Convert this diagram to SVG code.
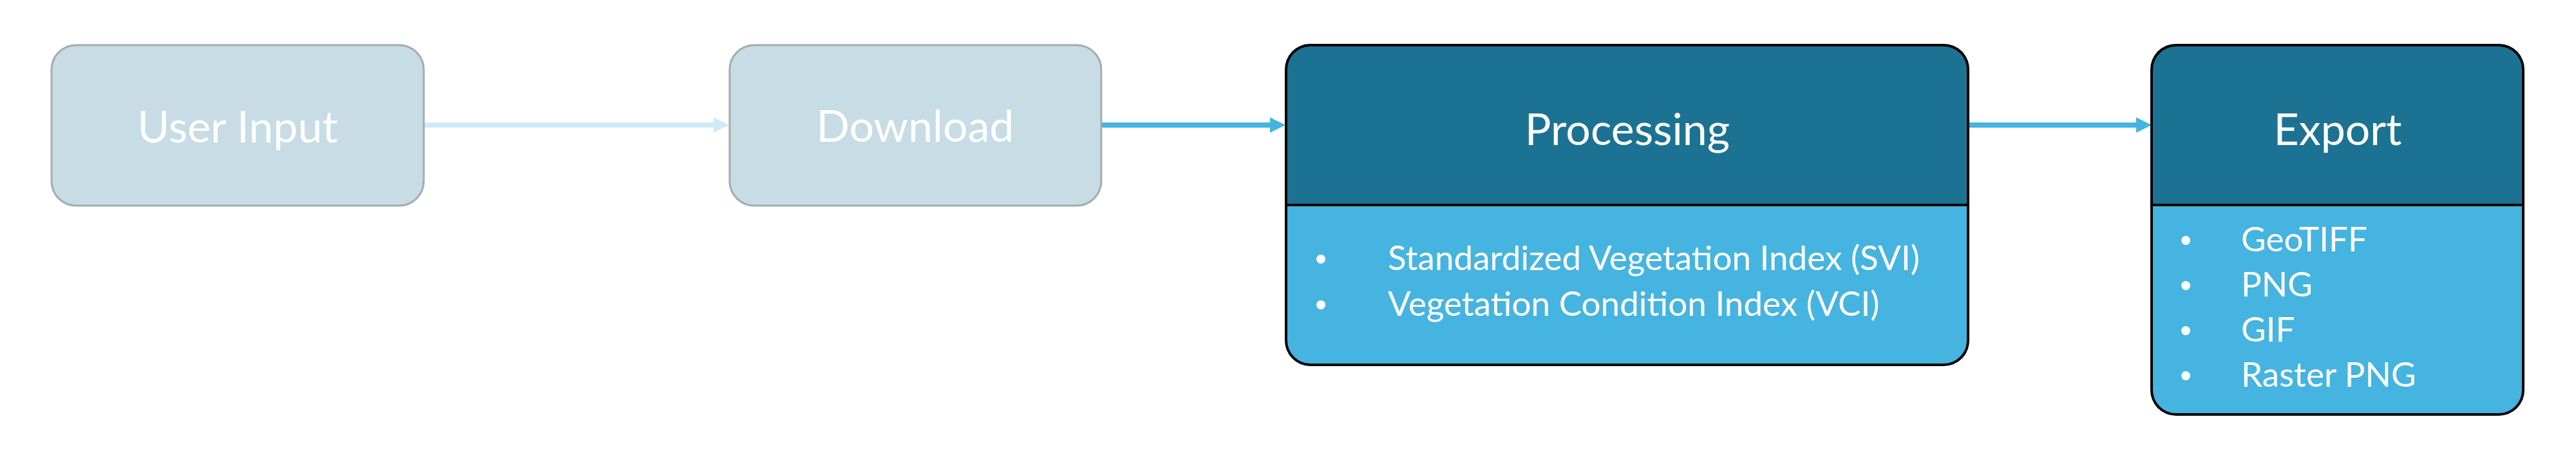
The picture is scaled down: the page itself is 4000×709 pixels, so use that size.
<svg xmlns="http://www.w3.org/2000/svg" width="4000" height="709" viewBox="0 0 4000 709">
  <style>
    .ghost { fill: #C7DCE4; stroke: #A3ACB1; stroke-width: 3; }
    .head { fill: #1C7293; }
    .body { fill: #45B4E0; }
    .frame { fill: none; stroke: #000000; stroke-width: 4; }
    .title { font-family: Lato, "Liberation Sans", sans-serif; font-size: 68px; fill: #FFFFFF; text-anchor: middle; }
    .item { font-family: Lato, "Liberation Sans", sans-serif; font-size: 53px; fill: #FFFFFF; }
    .bul { font-family: "Liberation Sans", sans-serif; font-size: 52px; fill: #FFFFFF; text-anchor: middle; }
  </style>
  <defs>
    <marker id="ahLight" markerUnits="userSpaceOnUse" markerWidth="24" markerHeight="24" refX="4" refY="12" orient="auto">
      <path d="M0,0 L24,12 L0,24 Z" fill="#D0EBF5"/>
    </marker>
    <marker id="ahBlue" markerUnits="userSpaceOnUse" markerWidth="24" markerHeight="24" refX="4" refY="12" orient="auto">
      <path d="M0,0 L24,12 L0,24 Z" fill="#45B4E0"/>
    </marker>
  </defs>
  <rect width="4000" height="709" fill="#FFFFFF"/>

  <g id="connectors">
    <path d="M659,194 L1112,194" stroke="#D0EBF5" stroke-width="8" fill="none" marker-end="url(#ahLight)"/>
    <path d="M1711,194 L1976,194" stroke="#45B4E0" stroke-width="8" fill="none" marker-end="url(#ahBlue)"/>
    <path d="M3058,194 L3321,194" stroke="#45B4E0" stroke-width="8" fill="none" marker-end="url(#ahBlue)"/>
  </g>

  <g id="user-input">
    <rect class="ghost" x="80" y="70" width="578" height="249" rx="38" ry="38"/>
    <text class="title" x="369" y="221">User Input</text>
  </g>

  <g id="download">
    <rect class="ghost" x="1133" y="70" width="577" height="249" rx="38" ry="38"/>
    <text class="title" x="1421" y="220">Download</text>
  </g>

  <g id="processing">
    <path class="head" d="M1997,318 L1997,108 Q1997,70 2035,70 L3018,70 Q3056,70 3056,108 L3056,318 Z"/>
    <path class="body" d="M1997,318 L3056,318 L3056,528 Q3056,566 3018,566 L2035,566 Q1997,566 1997,528 Z"/>
    <rect class="frame" x="1997" y="70" width="1059" height="496" rx="38" ry="38"/>
    <line x1="1997" y1="318" x2="3056" y2="318" stroke="#000000" stroke-width="4"/>
    <text class="title" x="2527" y="225">Processing</text>
    <text class="bul" x="2051" y="419">•</text>
    <text class="item" x="2155" y="419">Standardized Vegetation Index (SVI)</text>
    <text class="bul" x="2051" y="490">•</text>
    <text class="item" x="2155" y="490">Vegetation Condition Index (VCI)</text>
  </g>

  <g id="export">
    <path class="head" d="M3341,318 L3341,108 Q3341,70 3379,70 L3880,70 Q3918,70 3918,108 L3918,318 Z"/>
    <path class="body" d="M3341,318 L3918,318 L3918,605 Q3918,643 3880,643 L3379,643 Q3341,643 3341,605 Z"/>
    <rect class="frame" x="3341" y="70" width="577" height="573" rx="38" ry="38"/>
    <line x1="3341" y1="318" x2="3918" y2="318" stroke="#000000" stroke-width="4"/>
    <text class="title" x="3630" y="225">Export</text>
    <text class="bul" x="3394" y="390">•</text>
    <text class="item" x="3480" y="390">GeoTIFF</text>
    <text class="bul" x="3394" y="460">•</text>
    <text class="item" x="3480" y="460">PNG</text>
    <text class="bul" x="3394" y="530">•</text>
    <text class="item" x="3480" y="530">GIF</text>
    <text class="bul" x="3394" y="600">•</text>
    <text class="item" x="3480" y="600">Raster PNG</text>
  </g>
</svg>
